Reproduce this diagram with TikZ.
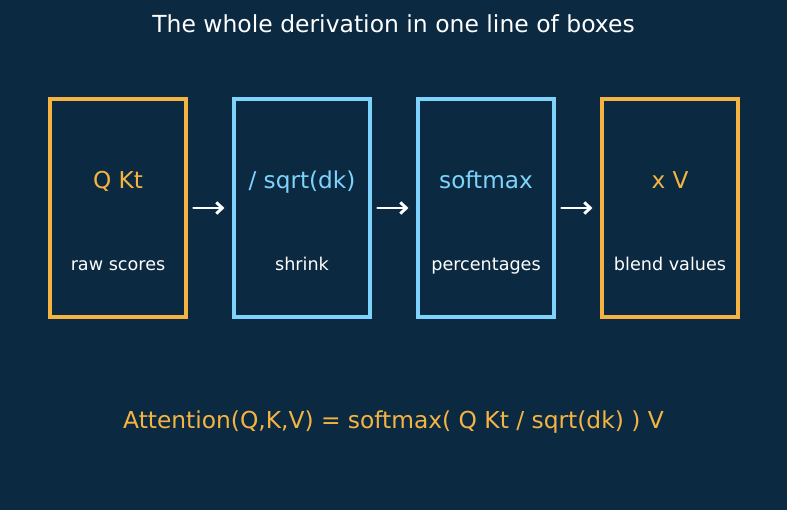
\documentclass[tikz,border=0pt]{standalone}
\usepackage{fontspec}
\setmainfont{DejaVu Sans}
\usetikzlibrary{arrows.meta}
\definecolor{bg}{HTML}{0B2A42}
\definecolor{orng}{HTML}{F5B342}
\definecolor{blu}{HTML}{7DD3FC}
\begin{document}
\begin{tikzpicture}[x=0.75pt,y=-0.75pt,
  box/.style={draw=#1,line width=2.4pt,fill=bg,minimum width=136*0.75pt,minimum height=218*0.75pt,inner sep=0pt},
  mainlbl/.style={text=#1,font=\fontsize{17.4}{20}\selectfont,anchor=base},
  sublbl/.style={text=white,font=\fontsize{13.2}{16}\selectfont,anchor=base},
  arr/.style={draw=white,line width=2.2pt,line cap=round,-{Straight Barb[length=4.5pt,width=8.5pt,line width=2.2pt]}}]
\fill[bg] (0,0) rectangle (787,510);
\useasboundingbox (0,0) rectangle (787,510);
\node[text=white,font=\fontsize{17.6}{20}\selectfont,anchor=base] (title) at (393.5,32.5) {The whole derivation in one line of boxes};
\node[box=orng] (b1) at (118,208) {};
\node[box=blu] (b2) at (302,208) {};
\node[box=blu] (b3) at (486,208) {};
\node[box=orng] (b4) at (670,208) {};
\node[mainlbl=orng] (m1) at (118,188) {Q Kt};
\node[mainlbl=blu] (m2) at (302,188) {/ sqrt(dk)};
\node[mainlbl=blu] (m3) at (486,188) {softmax};
\node[mainlbl=orng] (m4) at (670,188) {x V};
\node[sublbl] (s1) at (118,270) {raw scores};
\node[sublbl] (s2) at (302,270) {shrink};
\node[sublbl] (s3) at (486,270) {percentages};
\node[sublbl] (s4) at (670,270) {blend values};
\draw[arr] ([xshift=4.5pt]b1.east) -- ([xshift=-6pt]b2.west);
\draw[arr] ([xshift=4.5pt]b2.east) -- ([xshift=-6pt]b3.west);
\draw[arr] ([xshift=4.5pt]b3.east) -- ([xshift=-6pt]b4.west);
\node[text=orng,font=\fontsize{17.5}{20}\selectfont,anchor=base] (f) at (393.5,428) {Attention(Q,K,V) = softmax( Q Kt / sqrt(dk) ) V};
\end{tikzpicture}
\end{document}
